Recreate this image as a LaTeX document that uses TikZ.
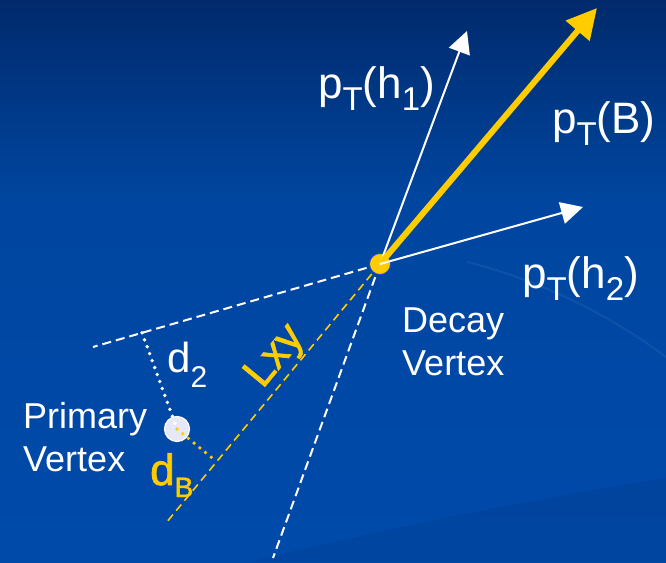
\documentclass[tikz,border=0pt]{standalone}
\usepackage{fontspec}
\setmainfont{Liberation Sans}
\newfontfamily\yfont[FakeBold=1.6]{Liberation Sans}
\usetikzlibrary{arrows.meta,calc}
\definecolor{gold}{HTML}{FFCC00}
\definecolor{bgtop}{HTML}{002A6C}
\definecolor{bgmid}{HTML}{0046A0}
\definecolor{bgbot}{HTML}{004AAA}
\definecolor{pvfill}{HTML}{E6E8F8}
\definecolor{rimblue}{HTML}{2244EE}
\pgfdeclareverticalshading{slidebg}{100bp}{color(0bp)=(bgbot); color(25bp)=(bgbot); color(57bp)=(bgmid); color(75bp)=(bgtop); color(100bp)=(bgtop)}
\newcommand{\sbx}[3]{\raisebox{-#1pt}{\fontsize{#2}{#2}\selectfont #3}}
\begin{document}
\begin{tikzpicture}[x=1pt,y=-1pt,
  txt/.style={text=white,inner sep=0pt,anchor=base west,font=\fontsize{36}{43}\selectfont},
  ptxt/.style={text=white,inner sep=0pt,anchor=base west,font=\fontsize{44}{50}\selectfont},
  ytxt/.style={text=gold,inner sep=0pt},
  wdash/.style={white,line width=2pt,dash pattern=on 9pt off 5pt},
  ydash/.style={gold,line width=1.6pt,dash pattern=on 8pt off 5pt},
  wdot/.style={white,line width=3.8pt,line cap=round,dash pattern=on 0pt off 7.4pt},
  ydot/.style={gold,line width=3.8pt,line cap=round,dash pattern=on 0pt off 7.4pt},
  decayv/.style={circle,fill=gold,draw=rimblue,line width=0.8pt,minimum size=21pt,inner sep=0pt},
  primv/.style={circle,fill=pvfill,draw=white,line width=1.2pt,minimum size=25pt,inner sep=0pt},
  warrow/.style={white,line width=2pt,-{Triangle[length=22pt,width=22pt]}},
  yarrow/.style={gold,line width=6pt,-{Triangle[length=30pt,width=30pt]}}]
\useasboundingbox (0,0) rectangle (666,562);
\shade[shading=slidebg] (0,0) rectangle (666,562);
% faint background swooshes
\fill[black,opacity=0.06] (250,562) .. controls (420,520) and (560,495) .. (666,478) -- (666,562) -- cycle;
\draw[white,opacity=0.06,line width=2pt] (467,262) .. controls (540,280) and (610,315) .. (666,357);
% geometry
\coordinate (V) at (380,264);
\coordinate (P) at (177,429);
\coordinate (eL) at (93,347);
\coordinate (eD) at (273,558);
\coordinate (eY) at (166,523);
\coordinate (h1) at (467,31);
\coordinate (bt) at (597,8);
\coordinate (h2) at (583,207);
\coordinate (f2) at ($(V)!0.829!(eL)$);
\coordinate (fB) at ($(V)!(P)!(eY)$);
% dashed lines
\draw[wdash] (V) -- (eL);
\draw[wdash] (V) -- (eD);
\draw[ydash] (V) -- (eY);
% vertices
\node[decayv] (dv) at (V) {};
\node[primv] (pv) at (P) {};
% dotted distances
\draw[wdot] (f2) -- (pv.center);
\draw[ydot] (pv.center) -- (fB);
% momentum arrows
\draw[warrow] (dv.center) -- (h1);
\draw[yarrow] (dv.center) -- (bt);
\draw[warrow] (dv.center) -- (h2);
% labels
\node[ptxt] (lh1) at (318,98) {p\sbx{12}{33}{T}(h\sbx{12}{33}{1})};
\node[ptxt] (lB) at (552,133) {p\sbx{12}{33}{T}(B)};
\node[ptxt] (lh2) at (522,288) {p\sbx{12}{33}{T}(h\sbx{12}{33}{2})};
\node[txt,align=left] (ldv) at (402,375) {Decay\\Vertex};
\node[txt,align=left] (lpv) at (23,471) {Primary\\Vertex};
\node[txt,font=\fontsize{42}{48}\selectfont] (ld2) at (167,372) {d\sbx{15}{30}{2}};
\node[ytxt,anchor=base west,font=\yfont\fontsize{44}{50}\selectfont] (ldB) at (150,485) {d\sbx{12}{28}{B}};
\node[ytxt,rotate=50.5,font=\yfont\fontsize{43}{48}\selectfont] (lxy) at (276,357) {Lxy};
\end{tikzpicture}
\end{document}
